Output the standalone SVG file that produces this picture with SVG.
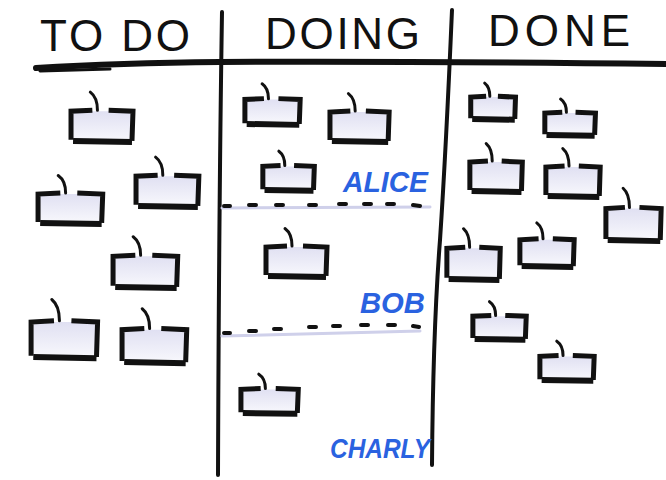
<svg xmlns="http://www.w3.org/2000/svg" xmlns:xlink="http://www.w3.org/1999/xlink" width="666" height="480" viewBox="0 0 666 480">
<style>
.ink{fill:none;stroke:#111;stroke-width:5;stroke-linecap:butt;stroke-linejoin:miter;vector-effect:non-scaling-stroke}
.pin{fill:none;stroke:#111;stroke-width:3;stroke-linecap:round;vector-effect:non-scaling-stroke}
.cfill{fill:url(#lav)}
.head{font-family:"Liberation Sans","DejaVu Sans",sans-serif;font-size:44px;fill:#111}
.name{font-family:"Liberation Sans","DejaVu Sans",sans-serif;font-weight:bold;font-style:italic;fill:#2a62e0}
.div{fill:none;stroke:#111;stroke-width:4;stroke-linecap:round}
.line{fill:none;stroke:#111;stroke-linecap:round}
.lavline{fill:none;stroke:#cfd0ea;stroke-width:3;stroke-linecap:round}
.dash{fill:none;stroke:#111;stroke-width:4;stroke-linecap:round}
</style>
<defs>
<linearGradient id="lav" x1="0" y1="0" x2="0" y2="1">
<stop offset="0" stop-color="#e0e0f2"/>
<stop offset="1" stop-color="#f7f7fc"/>
</linearGradient>
<g id="card">
<path class="cfill" d="M3,4 H61 V31 H3 Z"/>
<path class="ink" d="M1,31 L1,4 L22,3 M38,3 L62,4 L61,32"/>
<path class="ink" d="M3,32 L61,33" style="stroke-width:6"/>
<path class="pin" d="M20,-14 Q27,-9 27,3"/>
</g>
</defs>
<rect width="666" height="480" fill="#fff"/>
<g id="headers">
<text class="head" x="40" y="51" textLength="150" lengthAdjust="spacing">TO DO</text>
<text class="head" x="265" y="49" textLength="155" lengthAdjust="spacing">DOING</text>
<text class="head" x="488" y="46" textLength="142" lengthAdjust="spacing">DONE</text>
</g>
<g id="grid">
<path class="line" style="stroke-width:6" d="M36,68 Q120,63 220,62 Q400,61 666,64"/>
<path class="line" style="stroke-width:3" d="M40,71 L110,69"/>
<path class="div" d="M222,12 Q219,200 218,475"/>
<path class="div" d="M452,10 Q446,150 440,240 Q433,330 432,465"/>
</g>
<g id="swimlanes">
<path class="lavline" d="M222,208 L430,207"/>
<path class="dash" d="M224,206 l6,0 M249,205 l7,0 M276,205 l7,0 M309,205 l7,0 M339,204 l7,0 M364,204 l7,0 M387,204 l7,0 M413,205 l7,1"/>
<path class="lavline" d="M222,336 L420,331"/>
<path class="dash" d="M224,333 l6,0 M249,331 l7,0 M274,329 l7,0 M309,327 l7,0 M333,326 l7,0 M361,325 l7,0 M388,325 l7,0 M413,326 l6,1"/>
</g>
<g id="names">
<text class="name" x="343" y="192" font-size="30" textLength="85" lengthAdjust="spacingAndGlyphs">ALICE</text>
<text class="name" x="360" y="313" font-size="29" textLength="65" lengthAdjust="spacingAndGlyphs">BOB</text>
<text class="name" x="330" y="458" font-size="28" textLength="100" lengthAdjust="spacingAndGlyphs">CHARLY</text>
</g>
<g id="todo">
<g id="card-todo-1"><use xlink:href="#card" transform="translate(70,107) scale(1.016,1.06)"/></g>
<g id="card-todo-2"><use xlink:href="#card" transform="translate(135,172) scale(1.03,1.06)"/></g>
<g id="card-todo-3"><use xlink:href="#card" transform="translate(37,190) scale(1.06,1.03)"/></g>
<g id="card-todo-4"><use xlink:href="#card" transform="translate(112,252) scale(1.06,1.09)"/></g>
<g id="card-todo-5"><use xlink:href="#card" transform="translate(30,317) scale(1.09,1.25)"/></g>
<g id="card-todo-6"><use xlink:href="#card" transform="translate(121,325) scale(1.06,1.16)"/></g>
</g>
<g id="doing">
<g id="card-doing-1"><use xlink:href="#card" transform="translate(244,96) scale(0.906,0.875)"/></g>
<g id="card-doing-2"><use xlink:href="#card" transform="translate(329,108) scale(0.97,1.03)"/></g>
<g id="card-doing-3"><use xlink:href="#card" transform="translate(262,163) scale(0.844,0.844)"/></g>
<g id="card-doing-4"><use xlink:href="#card" transform="translate(265,243) scale(1.0,1.03)"/></g>
<g id="card-doing-5"><use xlink:href="#card" transform="translate(240,386) scale(0.94,0.844)"/></g>
</g>
<g id="done">
<g id="card-done-1"><use xlink:href="#card" transform="translate(470,94) scale(0.734,0.78)"/></g>
<g id="card-done-2"><use xlink:href="#card" transform="translate(544,110) scale(0.83,0.78)"/></g>
<g id="card-done-3"><use xlink:href="#card" transform="translate(469,158) scale(0.86,1.03)"/></g>
<g id="card-done-4"><use xlink:href="#card" transform="translate(545,163) scale(0.89,1.03)"/></g>
<g id="card-done-5"><use xlink:href="#card" transform="translate(605,204) scale(0.906,1.125)"/></g>
<g id="card-done-6"><use xlink:href="#card" transform="translate(446,244) scale(0.875,1.09)"/></g>
<g id="card-done-7"><use xlink:href="#card" transform="translate(519,236) scale(0.89,0.94)"/></g>
<g id="card-done-8"><use xlink:href="#card" transform="translate(472,313) scale(0.875,0.81)"/></g>
<g id="card-done-9"><use xlink:href="#card" transform="translate(539,353) scale(0.89,0.844)"/></g>
</g>
</svg>
